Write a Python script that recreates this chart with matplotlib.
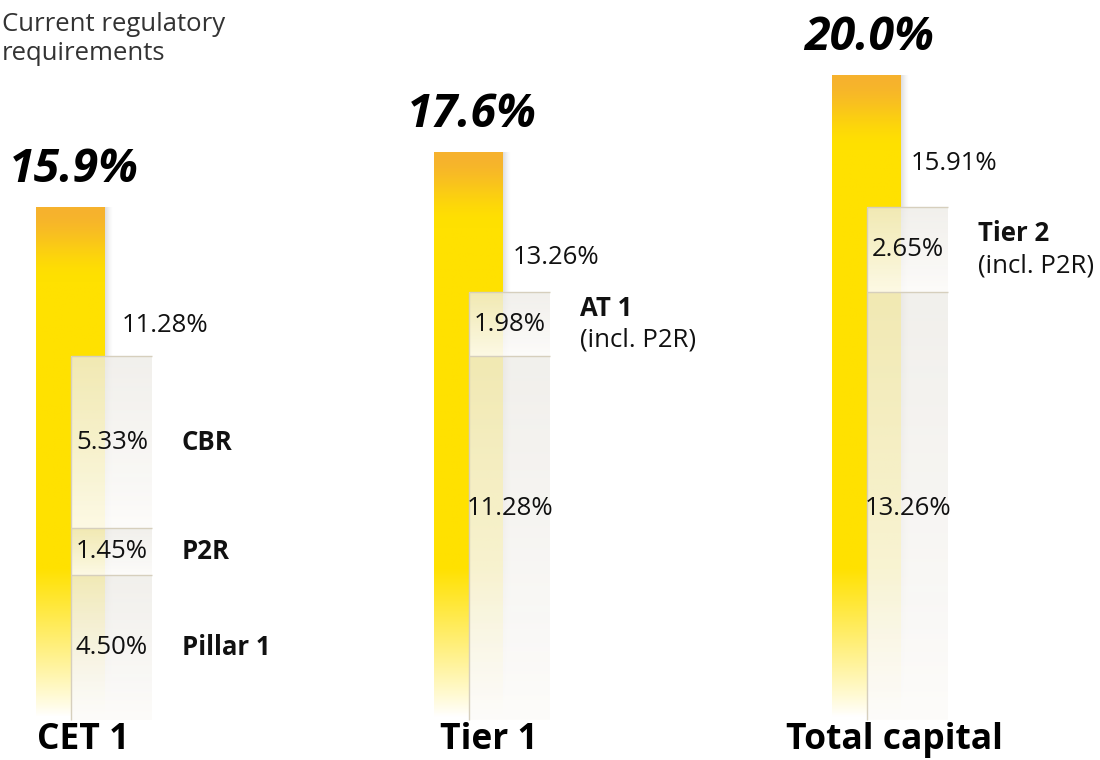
import numpy as np
import matplotlib
matplotlib.use('Agg')
import matplotlib.pyplot as plt

plt.rcParams['font.family'] = ['Open Sans', 'DejaVu Sans']

categories = ['CET 1', 'Tier 1', 'Total capital']
ratios = [15.9, 17.6, 20.0]
ratio_labels = ['15.9%', '17.6%', '20.0%']
# requirement build-up for each column, bottom to top
req_values = [[4.50, 1.45, 5.33], [11.28, 1.98], [13.26, 2.65]]
req_names = [['Pillar 1', 'P2R', 'CBR'], [None, 'AT 1'], [None, 'Tier 2']]
req_notes = [[None, None, None], [None, '(incl. P2R)'], [None, '(incl. P2R)']]

# layout (pixels across, percent up)
W, H = 1100, 760
zero_px, px_per_pct = 720, 32.25
bar_centers = [70.5, 468.5, 866.5]
bar_w, box_w = 69, 81
top_dx = [17, 10, 10]
top_dy = [0.94, 1.07, 1.36]
base_label_level = 6.57
cat_x = [37, 440, 786]
fs = 18.5

orange = np.array([246, 178, 46]) / 255
yellow = np.array([255, 225, 0]) / 255
white = np.ones(3)
box_top = np.array([238, 236, 231]) / 255
box_bot = np.array([253, 252, 250]) / 255
edge = '#d6cfbd'
ink = '#111111'

fig = plt.figure(figsize=(W / 100, H / 100), dpi=100)
ax = fig.add_axes([0, 0, 1, 1])


def fade(v):
    return np.clip((v - 0.1) / 4.6, 0, 1) ** 0.9


for i, cat in enumerate(categories):
    top = ratios[i]
    xc = bar_centers[i]
    x0, x1 = xc - bar_w / 2, xc + bar_w / 2

    # yellow bar: orange cap, fading out towards the bottom
    bar = ax.bar(xc, top, width=bar_w, color='none', edgecolor='none')[0]
    v = np.linspace(0, top, 500)
    s = np.clip((top - v) / 2.3, 0, 1)
    s = s * s * (3 - 2 * s)
    col = orange[None, :] * (1 - s[:, None]) + yellow[None, :] * s[:, None]
    f = fade(v)[:, None]
    col = white[None, :] * (1 - f) + col * f
    img = np.repeat(col[:, None, :], 2, axis=1)
    im = ax.imshow(img, extent=[x0, x1, 0, top], origin='lower',
                   aspect='auto', zorder=2, interpolation='bilinear')
    im.set_clip_path(bar)

    # soft shadow on the right of the bar
    sx = np.linspace(1, 0, 12) ** 1.5
    sh = np.zeros((500, 12, 4))
    sh[..., 3] = 0.13 * sx[None, :] * fade(v)[:, None]
    ax.imshow(sh, extent=[x1, x1 + 9, 0, top], origin='lower',
              aspect='auto', zorder=1.5, interpolation='bilinear')

    # requirement boxes
    bl = xc
    bottom = 0.0
    for j, h in enumerate(req_values[i]):
        seg = ax.bar(bl, h, width=box_w, bottom=bottom, align='edge',
                     color='none', edgecolor='none')[0]
        t = np.linspace(0, 1, 200)[:, None]
        rgba = np.zeros((200, 2, 4))
        c = box_bot[None, :] * (1 - t) + box_top[None, :] * t
        a = 0.92 * (1 - t) + 0.78 * t
        rgba[..., :3] = c[:, None, :]
        rgba[..., 3] = a
        gi = ax.imshow(rgba, extent=[bl, bl + box_w, bottom, bottom + h],
                       origin='lower', aspect='auto', zorder=3,
                       interpolation='bilinear')
        gi.set_clip_path(seg)
        ax.hlines(bottom + h, bl, bl + box_w, color=edge, lw=1, zorder=4)
        ax.vlines(bl, bottom, bottom + h, color=edge, lw=1, zorder=4)

        mid = bottom + h / 2
        name = req_names[i][j]
        ly = mid if name else base_label_level
        ax.text(bl + box_w / 2 + 1, ly, f'{h:.2f}%', ha='center',
                va='center', fontsize=fs, color=ink, zorder=5)
        if name:
            note = req_notes[i][j]
            nx = bl + box_w + 30
            if note:
                ax.text(nx, mid + 0.5, name, ha='left', va='center',
                        fontsize=fs, fontweight='bold', color=ink)
                ax.text(nx, mid - 0.5, note, ha='left', va='center',
                        fontsize=fs, color=ink)
            else:
                ax.text(nx, mid, name, ha='left', va='center',
                        fontsize=fs, fontweight='bold', color=ink)
        bottom += h

    total = sum(req_values[i])
    ax.text(x1 + top_dx[i], total + top_dy[i], f'{total:.2f}%', ha='left',
            va='center', fontsize=fs, color=ink)

    ax.text(xc + 3, top + 0.78, ratio_labels[i], ha='center', va='baseline',
            fontsize=33.5, fontweight='bold', fontstyle='italic', color='#000000')

    fig.text(cat_x[i] / W, 1 - 749 / H, cat, ha='left', va='baseline',
             fontsize=25.5, fontweight='bold', color='#000000')

fig.text(2 / W, 1 - 12 / H, 'Current regulatory\nrequirements', ha='left',
         va='top', fontsize=fs, color='#333333', linespacing=1.2)

ax.set_xlim(0, W)
ax.set_ylim((zero_px - H) / px_per_pct, zero_px / px_per_pct)
ax.axis('off')

fig.savefig('out.png', dpi=100)
